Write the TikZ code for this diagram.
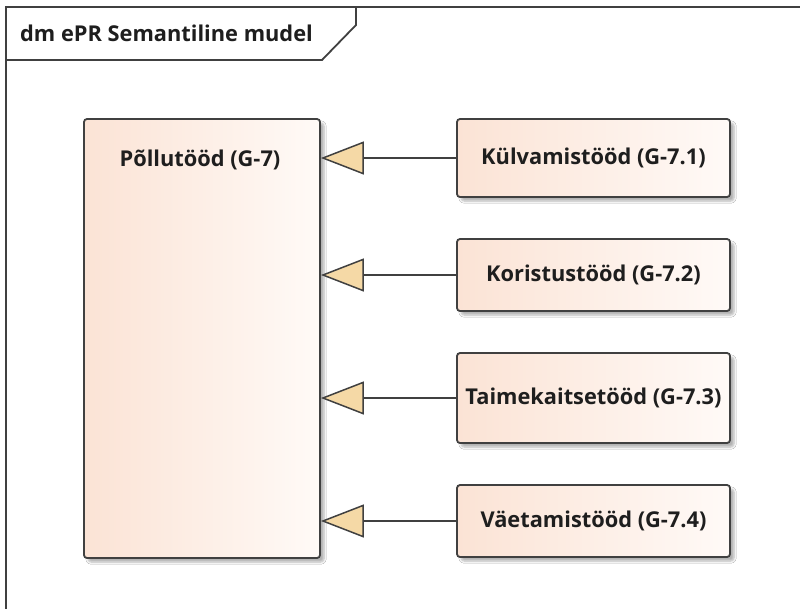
\documentclass[tikz,border=0pt]{standalone}
\usepackage{fontspec}
\setmainfont{Open Sans}
\usetikzlibrary{arrows.meta,shadows.blur}
\definecolor{framegray}{HTML}{404040}
\definecolor{peach}{HTML}{FBE3D5}
\definecolor{paleend}{HTML}{FFFAF7}
\definecolor{wheatfill}{HTML}{F5D9A6}
\definecolor{inkdark}{HTML}{1E1E1E}
\newcommand{\elemfont}{\bfseries\fontsize{21.8}{24}\selectfont}
\tikzset{
  elem/.style={draw=framegray, line width=1.8pt, rounded corners=3pt,
    left color=peach, right color=paleend, shading angle=90,
    blur shadow={shadow xshift=4pt, shadow yshift=-4pt, shadow blur steps=6, shadow opacity=30},
    text=inkdark, font=\elemfont, inner sep=0pt},
  caption/.style={text=inkdark, font=\elemfont, inner sep=0pt},
  generalize/.style={draw=framegray, line width=1.5pt,
    -{Triangle[length=43pt, width=33pt, fill=wheatfill]}},
}
\begin{document}
\begin{tikzpicture}[x=1pt, y=-1pt]
\useasboundingbox (0,0) rectangle (800,608);
\fill[white] (0,0) rectangle (800,608);

% diagram frame with name tab
\draw[framegray, line width=1.8pt] (6,620) -- (6,7) -- (810,7);
\draw[framegray, line width=1.8pt] (6,60) -- (322,60) -- (356,25) -- (356,7);
\node[caption, anchor=west] (title) at (20,33) {dm ePR Semantiline mudel};

% parent element
\node[elem, minimum width=236pt, minimum height=439pt] (parent) at (202,338.5) {};
\node[caption] (parentname) at (200,160) {Põllutööd (G-7)};

% child elements
\node[elem, minimum width=273pt, minimum height=78pt] (c1) at (593.5,158) {Külvamistööd (G-7.1)};
\node[elem, minimum width=273pt, minimum height=72pt] (c2) at (593.5,275) {Koristustööd (G-7.2)};
\node[elem, minimum width=273pt, minimum height=90pt] (c3) at (593.5,398) {Taimekaitsetööd (G-7.3)};
\node[elem, minimum width=273pt, minimum height=72pt] (c4) at (593.5,521) {Väetamistööd (G-7.4)};

% generalizations
\foreach \c in {c1,c2,c3,c4}
  \draw[generalize] (\c.west) -- (\c.west -| parent.east);
\end{tikzpicture}
\end{document}
